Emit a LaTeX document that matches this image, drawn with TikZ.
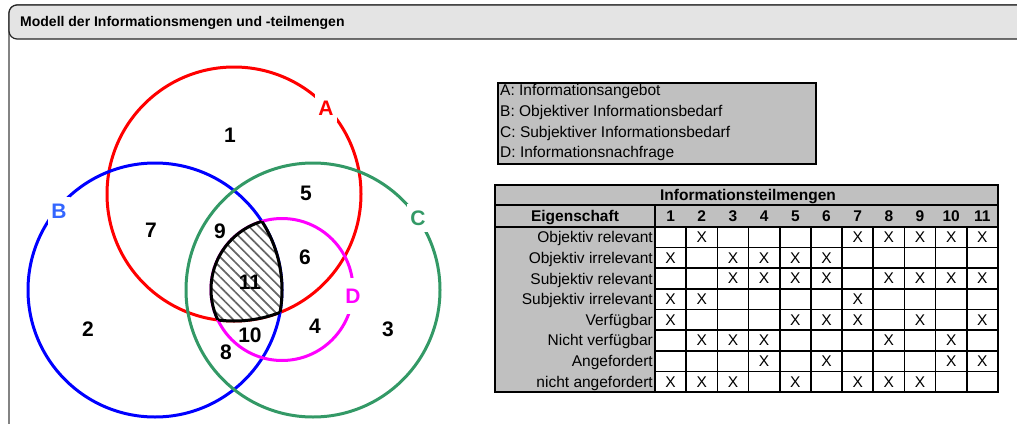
\documentclass[tikz,border=0pt]{standalone}
\usepackage{fontspec}
\setmainfont{Liberation Sans}
\usetikzlibrary{patterns.meta}
\definecolor{colA}{RGB}{255,0,0}
\definecolor{colB}{RGB}{0,0,255}
\definecolor{colBl}{RGB}{51,102,255}
\definecolor{colC}{RGB}{51,153,102}
\definecolor{colD}{RGB}{255,0,255}
\definecolor{titlebg}{RGB}{228,228,228}
\definecolor{tabgrey}{RGB}{192,192,192}
\begin{document}
\begin{tikzpicture}[x=1pt,y=-1pt,
  ring/.style={line width=3pt},
  vnum/.style={font=\bfseries\fontsize{21}{24}\selectfont, inner sep=0pt},
  vlet/.style={font=\bfseries\fontsize{21}{24}\selectfont, fill=white, inner xsep=3pt, inner ysep=7pt},
  legtxt/.style={font=\fontsize{15.5}{18}\selectfont, anchor=base west, inner sep=0pt},
  rowlbl/.style={font=\fontsize{15.5}{18}\selectfont, anchor=base east, inner sep=0pt},
  hdr/.style={font=\bfseries\fontsize{15.5}{18}\selectfont, anchor=base, inner sep=0pt},
  xmark/.style={font=\fontsize{15.5}{18}\selectfont, inner sep=0pt},
  gridline/.style={line width=1.6pt},
  thickline/.style={line width=2.6pt}
]
\useasboundingbox (0,0) rectangle (1017,423);
% frame
\begin{scope}
\clip (0,0) rectangle (1017,423);
\draw[draw=black!75, line width=1.2pt, rounded corners=8pt] (9,5) rectangle (1060,450);
\draw[fill=titlebg, draw=black!85, line width=1.2pt, rounded corners=8pt] (9,5) rectangle (1060,39);
\end{scope}
\node[anchor=base west, inner sep=0pt, font=\bfseries\fontsize{14}{16}\selectfont] (title) at (20,27) {Modell der Informationsmengen und -teilmengen};

% venn circles
\coordinate (oA) at (234,194);
\coordinate (oB) at (155,290);
\coordinate (oC) at (313,290);
\coordinate (oD) at (282,289.5);
\draw[ring, colA] (oA) circle[radius=127pt];
\draw[ring, colB] (oB) circle[radius=127pt];
\draw[ring, colC] (oC) circle[radius=127pt];
\draw[ring, colD] (oD) circle[radius=71pt];

% hatched region 11
\begin{scope}
\clip (oA) circle[radius=127pt];
\clip (oB) circle[radius=127pt];
\fill[white] (oD) circle[radius=71pt];
\fill[pattern={Lines[angle=-45,distance=7pt,line width=1.7pt]}, pattern color=black!60] (oD) circle[radius=71pt];
\end{scope}
\begin{scope}
\clip (oA) circle[radius=127pt];
\clip (oB) circle[radius=127pt];
\draw[ring, black] (oD) circle[radius=71pt];
\end{scope}
\begin{scope}
\clip (oA) circle[radius=127pt];
\clip (oD) circle[radius=71pt];
\draw[ring, black] (oB) circle[radius=127pt];
\end{scope}
\begin{scope}
\clip (oB) circle[radius=127pt];
\clip (oD) circle[radius=71pt];
\draw[ring, black] (oA) circle[radius=127pt];
\end{scope}

% region numbers
\node[vnum] (n1) at (230,135) {1};
\node[vnum] (n2) at (88,329) {2};
\node[vnum] (n3) at (388,329) {3};
\node[vnum] (n4) at (315,326) {4};
\node[vnum] (n5) at (306,193) {5};
\node[vnum] (n6) at (305,257) {6};
\node[vnum] (n7) at (151,230) {7};
\node[vnum] (n8) at (226,352) {8};
\node[vnum] (n9) at (220,231) {9};
\node[vnum] (n10) at (250,335) {10};
\node[vnum] (n11) at (250,282) {11};

% set letters
\node[vlet, text=colA] (lA) at (326,108) {A};
\node[vlet, text=colBl] (lB) at (59,211) {B};
\node[vlet, text=colC] (lC) at (418,218) {C};
\node[vlet, text=colD, inner ysep=11pt] (lD) at (353,296) {D};

% legend
\node[draw, line width=2.4pt, fill=tabgrey, minimum width=318pt, minimum height=81pt, anchor=north west, inner sep=0pt] (legend) at (497,82) {};
\node[legtxt] (legA) at (500,95.7) {A: Informationsangebot};
\node[legtxt] (legB) at (500,116.3) {B: Objektiver Informationsbedarf};
\node[legtxt] (legC) at (500,137) {C: Subjektiver Informationsbedarf};
\node[legtxt] (legD) at (500,157.7) {D: Informationsnachfrage};

% table
\fill[tabgrey] (495,185) rectangle (998,392);
\fill[white] (655,227) rectangle (998,392);
\foreach \i in {1,...,10} \draw[gridline] ({655+31.18*\i},227) -- ({655+31.18*\i},392);
\foreach \r in {1,...,7} \draw[gridline] (655,{227+20.625*\r}) -- (998,{227+20.625*\r});
\draw[thickline] (655,205) -- (655,392);
\draw[thickline] (495,205) -- (998,205);
\draw[thickline] (495,227) -- (998,227);
\draw[line width=2.8pt] (495,185) rectangle (998,392);
\node[hdr] (thead) at (748,200.5) {Informationsteilmengen};
\node[hdr] (eig) at (575,221.5) {Eigenschaft};
\foreach \i in {1,...,11} \node[hdr] (h\i) at ({655+31.18*(\i-0.5)},221.5) {\i};
\foreach \r/\lbl/\cols in {
  0/Objektiv relevant/{2,7,8,9,10,11},
  1/Objektiv irrelevant/{1,3,4,5,6},
  2/Subjektiv relevant/{3,4,5,6,8,9,10,11},
  3/Subjektiv irrelevant/{1,2,7},
  4/Verfügbar/{1,5,6,7,9,11},
  5/Nicht verfügbar/{2,3,4,8,10},
  6/Angefordert/{4,6,10,11},
  7/nicht angefordert/{1,2,3,5,7,8,9}} {
  \node[rowlbl] (lbl\r) at (653,{227+20.625*(\r+0.5)+5.5}) {\lbl};
  \foreach \cc in \cols
    \node[xmark] (x\r-\cc) at ({655+31.18*(\cc-0.5)},{227+20.625*(\r+0.5)}) {X};
}
\end{tikzpicture}
\end{document}
